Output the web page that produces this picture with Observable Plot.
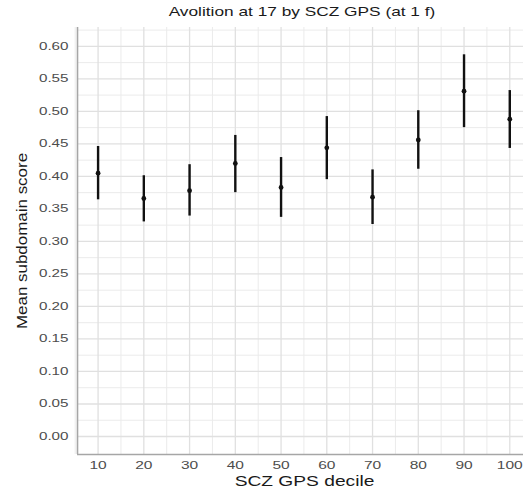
<!DOCTYPE html>
<html>
<head>
<meta charset="utf-8">
<script src="https://cdn.jsdelivr.net/npm/d3@7"></script>
<script src="https://cdn.jsdelivr.net/npm/@observablehq/plot@0.6"></script>
<style>
  html, body { margin: 0; padding: 0; background: #fff; overflow: hidden; }
  #wrap { position: relative; width: 523px; height: 496px; font-family: "Liberation Sans", Arial, sans-serif; }
  #title { position: absolute; left: 0; top: 0; width: 604px; height: 22px; line-height: 24px; text-align: center; font-size: 13.5px; color: #1a1a1a; transform: scaleX(1.28); transform-origin: 302px 50%; }
  #chart { position: absolute; left: 0; top: 22px; }
</style>
</head>
<body>
<div id="wrap">
  <div id="title">Avolition at 17 by SCZ GPS (at 1 f)</div>
  <div id="chart"></div>
</div>
<script>
const deciles = [10, 20, 30, 40, 50, 60, 70, 80, 90, 100];
const means   = [0.405, 0.366, 0.378, 0.420, 0.383, 0.444, 0.368, 0.456, 0.531, 0.488];
const lowers  = [0.364, 0.330, 0.339, 0.375, 0.337, 0.395, 0.326, 0.411, 0.475, 0.443];
const uppers  = [0.446, 0.401, 0.418, 0.463, 0.429, 0.492, 0.410, 0.501, 0.587, 0.532];
const xTicks = [10, 20, 30, 40, 50, 60, 70, 80, 90, 100];
const xMinor = [5, 15, 25, 35, 45, 55, 65, 75, 85, 95];
const yTicks = [0.00, 0.05, 0.10, 0.15, 0.20, 0.25, 0.30, 0.35, 0.40, 0.45, 0.50, 0.55, 0.60];
const yMinor = [0.025, 0.075, 0.125, 0.175, 0.225, 0.275, 0.325, 0.375, 0.425, 0.475, 0.525, 0.575, 0.625];
const titleText = "Avolition at 17 by SCZ GPS (at 1 f)";
const xLabel = "SCZ GPS decile";
const yLabel = "Mean subdomain score";

const rows = deciles.map((d, i) => ({decile: d, mean: means[i], lo: lowers[i], hi: uppers[i]}));
const xDomain = [5.5, 103.0];
const yDomain = [-0.0277, 0.629];

const plot = Plot.plot({
  width: 523,
  height: 474,
  marginTop: 5,
  marginBottom: 42,
  marginLeft: 77,
  marginRight: 0,
  style: {fontFamily: "'Liberation Sans', Arial, sans-serif", background: "#fff"},
  x: {domain: xDomain},
  y: {domain: yDomain},
  marks: [
    Plot.gridX(xMinor, {stroke: "#ebebeb", strokeOpacity: 1, strokeWidth: 1}),
    Plot.gridY(yMinor, {stroke: "#ebebeb", strokeOpacity: 1, strokeWidth: 1}),
    Plot.gridX(xTicks, {stroke: "#e0e0e0", strokeOpacity: 1, strokeWidth: 1.3}),
    Plot.gridY(yTicks, {stroke: "#e0e0e0", strokeOpacity: 1, strokeWidth: 1.3}),
    Plot.axisX({ticks: xTicks, tickSize: 0, tickPadding: 7, tickFormat: d => String(d), fontSize: 10.7, color: "#4d4d4d", label: null, className: "tickx"}),
    Plot.axisY({ticks: yTicks, tickSize: 0, tickPadding: 9, tickFormat: d3.format(".2f"), fontSize: 10.7, color: "#4d4d4d", label: null, className: "ticky"}),
    Plot.ruleX([xDomain[0]], {stroke: "#a6a6a6", strokeWidth: 1.6}),
    Plot.ruleY([yDomain[0]], {stroke: "#a6a6a6", strokeWidth: 1.6}),
    Plot.ruleX(rows, {x: "decile", y1: "lo", y2: "hi", stroke: "#111", strokeWidth: 2.4}),
    Plot.dot(rows, {x: "decile", y: "mean", r: 2.4, fill: "#111", stroke: "none"}),
    Plot.text([xLabel], {frameAnchor: "bottom", dx: 4, dy: 31, fontSize: 15, fill: "#1a1a1a", className: "xlab"}),
    Plot.text([yLabel], {frameAnchor: "left", textAnchor: "middle", lineAnchor: "middle", rotate: -90, dx: -55, fontSize: 14.5, fill: "#1a1a1a", className: "ylab"})
  ]
});
document.getElementById("chart").appendChild(plot);
document.getElementById("title").textContent = titleText;

// widen glyphs along the reading direction to match the reference's wide lettering
function stretch(sel, k) {
  d3.select(plot).selectAll(sel).each(function() {
    const t = this.getAttribute("transform") || "";
    this.setAttribute("transform", (t + " scale(" + k + ",1)").trim());
  });
}
stretch(".tickx text", 1.45);
stretch(".ticky text", 1.42);
stretch(".xlab text", 1.28);
stretch(".ylab text", 1.17);
</script>
</body>
</html>
